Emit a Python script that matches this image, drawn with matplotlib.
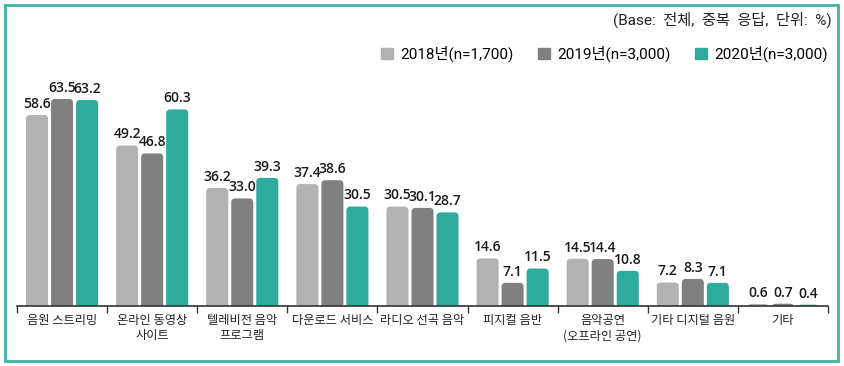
import matplotlib
matplotlib.use("Agg")
from matplotlib import pyplot as plt
from matplotlib.patches import FancyBboxPatch, Rectangle
import numpy as np

plt.rcParams['font.family'] = ['Noto Sans CJK KR', 'DejaVu Sans']

# data
categories = ['음원 스트리밍', '온라인 동영상\n사이트', '텔레비전 음악\n프로그램', '다운로드 서비스',
              '라디오 선곡 음악', '피지컬 음반', '음악공연\n(오프라인 공연)', '기타 디지털 음원', '기타']
series_names = ['2018년(n=1,700)', '2019년(n=3,000)', '2020년(n=3,000)']
v2018 = [58.6, 49.2, 36.2, 37.4, 30.5, 14.6, 14.5, 7.2, 0.6]
v2019 = [63.5, 46.8, 33.0, 38.6, 30.1, 7.1, 14.4, 8.3, 0.7]
v2020 = [63.2, 60.3, 39.3, 30.5, 28.7, 11.5, 10.8, 7.1, 0.4]
colors = ['#b2b2b2', '#808080', '#2dab9c']

W, H = 844, 366
fig = plt.figure(figsize=(W / 100, H / 100), dpi=100)
ax = fig.add_axes([17 / W, 1 - 306 / H, (828 - 17) / W, (306 - 80) / H])

x = np.arange(len(categories)) + 0.5
bw = 22 / 90
step = 25 / 90
ymax = 226 / 3.26
ax.set_xlim(0, len(categories))
ax.set_ylim(0, ymax)

# rounded top corners
r_px = 4
r_x = r_px / 90
aspect = (r_px / 3.26) / r_x

for i, vals in enumerate([v2018, v2019, v2020]):
    bars = ax.bar(x + (i - 1) * step, vals, width=bw, color=colors[i], label=series_names[i])
    for b, v in zip(bars, vals):
        b.set_visible(False)
        p = FancyBboxPatch((b.get_x(), -4), b.get_width(), b.get_height() + 4,
                           boxstyle="round,pad=0,rounding_size=%f" % r_x,
                           mutation_aspect=aspect, facecolor=colors[i], edgecolor='none')
        ax.add_patch(p)
        ax.annotate('%.1f' % v, (b.get_x() + b.get_width() / 2, b.get_height()),
                    xytext=(0, 3), textcoords='offset points', ha='center', va='bottom',
                    fontsize=10, family='Open Sans', fontweight='semibold', color='#1a1a1a')

for s in ['top', 'right', 'left']:
    ax.spines[s].set_visible(False)
ax.spines['bottom'].set_color('#333333')
ax.spines['bottom'].set_linewidth(1.2)
ax.set_yticks([])
ax.set_xticks(np.arange(len(categories) + 1))
ax.set_xticklabels([])
ax.tick_params(axis='x', which='major', length=5, width=1, color='#333333')
ax.set_xticks(x, minor=True)
ax.set_xticklabels(categories, minor=True, fontsize=8.8, color='#222222', linespacing=1.2)
ax.tick_params(axis='x', which='minor', length=0, pad=6)

handles = [Rectangle((0, 0), 1, 1, color=c) for c in colors]
fig.legend(handles, series_names, loc='upper right', bbox_to_anchor=(828 / W, 1 - 46 / H),
           ncol=3, frameon=False, prop={'family': ['Roboto', 'Noto Sans CJK KR'], 'size': 11},
           handlelength=0.75, handleheight=0.75, handletextpad=0.5, columnspacing=1.6,
           borderaxespad=0, borderpad=0)

fig.text(832 / W, 1 - 20 / H, '(Base:  전체,  중복  응답,  단위:  %)', ha='right', va='center',
         fontsize=11, family=['Roboto', 'Noto Sans CJK KR'], color='#222222')

fig.patches.append(Rectangle((5 / W, 5 / H), (838 - 5) / W, (361 - 5) / H, transform=fig.transFigure,
                             fill=False, edgecolor='#3db5a5', linewidth=2))

fig.savefig('out.png', dpi=100)
